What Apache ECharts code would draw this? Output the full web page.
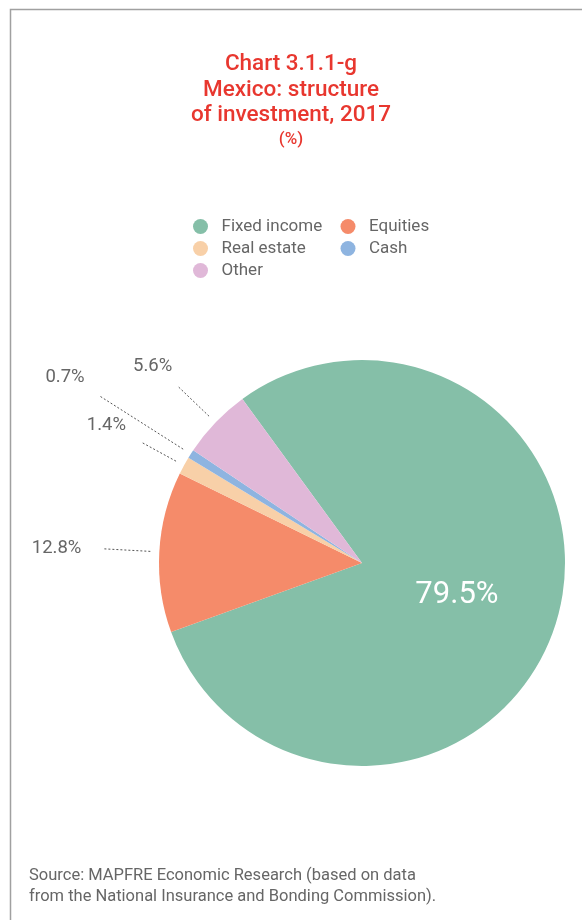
<!DOCTYPE html>
<html>
<head>
<meta charset="utf-8">
<style>
  html, body { margin: 0; padding: 0; background: #ffffff; }
  #chart { width: 582px; height: 920px; }
</style>
<script src="https://cdn.jsdelivr.net/npm/echarts@6/dist/echarts.min.js"></script>
</head>
<body>
<div id="chart"></div>
<script>
// Investment structure of Mexican insurers, 2017 (%)
const categories = ['Fixed income', 'Equities', 'Real estate', 'Cash', 'Other'];
const shares = [79.5, 12.8, 1.4, 0.7, 5.6];

const sliceColors = ['#85bfa8', '#f58b6a', '#f8d0a8', '#8eb4e0', '#e0b8d8'];
// leader line length, gap to the text and upward lift of each outside label
const leaderLength = [0, 46, 40, 99, 44];
const labelGapRight = [0, 18, 10, 10, 0];
const labelLift = [0, 0, 34, 38, 38];

const FONT = 'Roboto, "DejaVu Sans", sans-serif';
const CX = 362, CY = 563, R = 203;

const chart = echarts.init(document.getElementById('chart'), null, { renderer: 'canvas' });

const pieData = categories.map((name, i) => ({
  name: name,
  value: shares[i],
  itemStyle: { color: sliceColors[i] }
}));

// transparent ring just outside the pie carries the outside labels,
// so leader lines stop short of the slices
const labelRingData = categories.map((name, i) => {
  if (i === 0) {
    return { name: name, value: shares[i], label: { show: false }, labelLine: { show: false } };
  }
  return {
    name: name,
    value: shares[i],
    label: {
      show: true,
      padding: [0, labelGapRight[i], 0, 0],
      rich: {
        v: { fontFamily: FONT, fontSize: 18.5, color: '#666666', lineHeight: 20 },
        s: { fontSize: 1, lineHeight: labelLift[i] }
      }
    },
    labelLine: { show: true, length: leaderLength[i], length2: 0 }
  };
});

chart.setOption({
  animation: false,
  title: [{
    text: 'Chart 3.1.1-g\nMexico: structure\nof investment, 2017',
    left: 'center',
    top: 47,
    textStyle: {
      color: '#e8372f',
      fontFamily: FONT,
      fontSize: 22.5,
      fontWeight: 500,
      lineHeight: 25.5
    }
  }, {
    text: '(%)',
    left: 'center',
    top: 126,
    textStyle: {
      color: '#e8372f',
      fontFamily: FONT,
      fontSize: 17,
      fontWeight: 500
    }
  }, {
    text: 'Source: MAPFRE Economic Research (based on data\nfrom the National Insurance and Bonding Commission).',
    left: 24,
    top: 860,
    textStyle: {
      color: '#666666',
      fontFamily: FONT,
      fontSize: 16.5,
      fontWeight: 'normal',
      lineHeight: 21
    }
  }],
  legend: {
    data: categories,
    left: 188,
    top: 213,
    width: 300,
    orient: 'horizontal',
    icon: 'circle',
    itemWidth: 32,
    itemHeight: 15,
    itemGap: 5,
    selectedMode: false,
    textStyle: {
      color: '#666666',
      fontFamily: FONT,
      fontSize: 17,
      width: 114,
      lineHeight: 15
    }
  },
  graphic: [{
    type: 'polyline',
    shape: { points: [[10.5, 920], [10.5, 9.5], [582, 9.5]] },
    style: { stroke: '#a0a0a0', lineWidth: 1.5, fill: null },
    silent: true
  }],
  series: [{
    type: 'pie',
    name: 'Investment',
    center: [CX, CY],
    radius: [0, R],
    startAngle: 126.1,
    clockwise: true,
    silent: true,
    data: pieData,
    label: {
      show: true,
      position: 'inside',
      formatter: (p) => p.dataIndex === 0 ? p.value.toFixed(1) + '%' : '',
      color: '#ffffff',
      fontFamily: FONT,
      fontSize: 31,
      offset: [-5, 2]
    },
    labelLine: { show: false },
    emphasis: { disabled: true }
  }, {
    type: 'pie',
    name: 'labels',
    center: [CX, CY],
    radius: [0, R + 9],
    startAngle: 126.1,
    clockwise: true,
    silent: true,
    data: labelRingData,
    itemStyle: { color: 'rgba(0,0,0,0)' },
    label: {
      position: 'outside',
      formatter: (p) => '{v|' + p.value.toFixed(1) + '%}' +
        (labelLift[p.dataIndex] ? '\n{s| }' : ''),
      distanceToLabelLine: 5
    },
    labelLine: {
      lineStyle: { color: '#555555', width: 1, type: [2, 2] }
    },
    avoidLabelOverlap: false,
    emphasis: { disabled: true }
  }]
});
</script>
</body>
</html>
